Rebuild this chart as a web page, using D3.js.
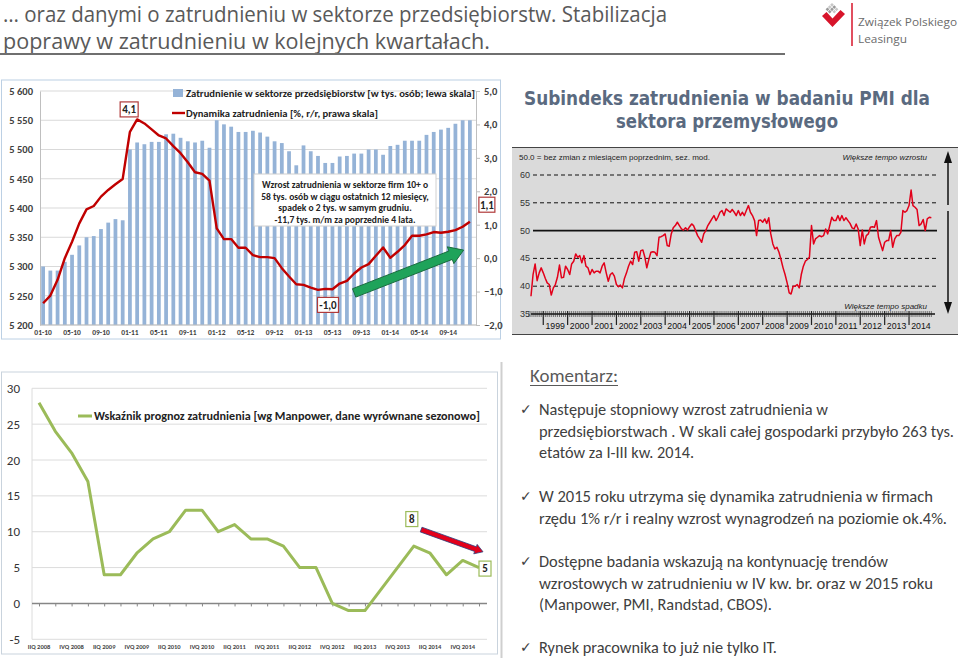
<!DOCTYPE html>
<html>
<head>
<meta charset="utf-8">
<script src="https://cdn.jsdelivr.net/npm/d3@7"></script>
<style>
  body { margin: 0; background: #fff; }
  svg { display: block; }
</style>
</head>
<body>
<svg id="slide" width="960" height="658"></svg>
<script>
// ---- data ----
const empMonths = d3.timeMonth.range(new Date(2010, 0, 1), new Date(2015, 0, 1));

// zatrudnienie w sektorze przedsiebiorstw, tys. osob (lewa skala)
const empLevel = [
  5300, 5293, 5293, 5308, 5320, 5336, 5350, 5352, 5364, 5375, 5381, 5379,
  5500, 5512, 5509, 5513, 5513, 5526, 5527, 5520, 5514, 5512, 5515, 5503,
  5550, 5543, 5539, 5530, 5530, 5532, 5529, 5522, 5514, 5511, 5497, 5473,
  5507, 5497, 5489, 5477, 5477, 5488, 5489, 5493, 5493, 5500, 5500, 5491,
  5506, 5508, 5515, 5515, 5515, 5525, 5530, 5534, 5537, 5544, 5550, 5550
];

// dynamika zatrudnienia, % r/r (prawa skala)
const empGrowth = [
  -1.35, -1.12, -0.65, 0.0, 0.49, 1.04, 1.46, 1.56, 1.84, 2.04, 2.21, 2.37,
  3.78, 4.15, 4.03, 3.85, 3.67, 3.58, 3.35, 3.14, 2.87, 2.57, 2.52, 2.32,
  0.89, 0.57, 0.57, 0.31, 0.31, 0.09, 0.03, 0.03, 0.0, -0.30, -0.55, -0.78,
  -0.80, -0.88, -0.95, -0.92, -0.93, -0.76, -0.68, -0.46, -0.28, -0.18, 0.07, 0.32,
  0.01, 0.19, 0.39, 0.67, 0.67, 0.71, 0.78, 0.76, 0.79, 0.84, 0.94, 1.09
];

const leftTicks = [5200, 5250, 5300, 5350, 5400, 5450, 5500, 5550, 5600];
const rightTicks = [-2, -1, 0, 1, 2, 3, 4, 5];

// PMI subindeks zatrudnienia, monthly from VII 1998
const pmiStart = new Date(1998, 6, 1);
const pmiValues = [
  38.2, 42.1, 44.0, 41.0, 42.4, 43.3,
  42.4, 41.4, 40.6, 40.3, 38.4, 39.7, 40.3, 41.6, 43.8, 41.5, 41.6, 43.6,
  43.0, 42.1, 44.0, 44.5, 45.8, 45.2, 45.5, 44.2, 45.5, 43.6, 43.3, 42.1,
  43.0, 42.4, 42.7, 42.7, 42.4, 43.6, 44.2, 42.4, 40.9, 42.1, 42.4, 41.8,
  40.3, 39.9, 40.2, 39.7, 41.4, 42.4, 43.6, 44.5, 43.9, 46.1, 46.2, 44.5,
  46.4, 46.5, 45.3, 43.3, 44.8, 46.1, 46.2, 46.1, 45.5, 48.8, 48.9, 49.1,
  49.4, 47.3, 47.2, 49.4, 50.5, 50.9, 51.5, 50.9, 50.3, 50.1, 50.5, 50.1,
  50.7, 51.2, 50.9, 50.0, 49.1, 48.5, 47.9, 49.4, 50.0, 50.9, 51.5, 52.1,
  52.7, 51.8, 52.4, 53.3, 53.6, 52.7, 53.9, 53.6, 53.3, 53.8, 53.3, 52.7,
  53.6, 52.7, 53.3, 52.7, 53.6, 54.5, 53.3, 52.7, 51.8, 49.1, 51.8, 51.9,
  51.5, 52.1, 51.3, 52.3, 49.4, 47.6, 46.7, 47.0, 46.1, 44.8, 43.3, 42.1,
  40.6, 38.8, 38.6, 40.0, 40.0, 40.3, 39.7, 42.1, 43.6, 44.5, 44.8, 45.2,
  50.9, 47.6, 48.5, 48.8, 49.1, 48.9, 49.1, 50.3, 49.4, 50.9, 52.4, 51.8,
  51.8, 52.7, 51.8, 52.7, 51.8, 52.3, 51.8, 51.3, 50.5, 50.3, 51.2, 50.3,
  47.3, 50.1, 47.6, 49.1, 49.4, 50.6, 50.7, 50.6, 51.8, 48.8, 47.6, 46.4,
  47.9, 48.2, 48.2, 50.0, 47.0, 48.5, 49.1, 49.1, 49.7, 53.6, 53.3, 53.6,
  54.5, 57.3, 54.5, 54.2, 53.8, 50.9, 51.2, 52.0, 50.0, 52.1, 52.4, 52.3
];
const pmiTicks = [35, 40, 45, 50, 55, 60];
const pmiYears = d3.range(1999, 2015);

// Manpower: wskaznik prognoz zatrudnienia
const mpQuarters = [
  "IIQ 2008", "IIIQ 2008", "IVQ 2008", "IQ 2009", "IIQ 2009", "IIIQ 2009", "IVQ 2009",
  "IQ 2010", "IIQ 2010", "IIIQ 2010", "IVQ 2010", "IQ 2011", "IIQ 2011", "IIIQ 2011",
  "IVQ 2011", "IQ 2012", "IIQ 2012", "IIIQ 2012", "IVQ 2012", "IQ 2013", "IIQ 2013",
  "IIIQ 2013", "IVQ 2013", "IQ 2014", "IIQ 2014", "IIIQ 2014", "IVQ 2014", "IQ 2015"
];
const mpValues = [28, 24, 21, 17, 4, 4, 7, 9, 10, 13, 13, 10, 11, 9, 9, 8, 5, 5, 0, -1, -1, 2, 5, 8, 7, 4, 6, 5];
const mpTicks = [-5, 0, 5, 10, 15, 20, 25, 30];

const titleLines = [
  "\u2026 oraz danymi o zatrudnieniu w sektorze przedsi\u0119biorstw. Stabilizacja",
  "poprawy w zatrudnieniu w kolejnych kwarta\u0142ach."
];
const noteLines = [
  "Wzrost zatrudnienia w sektorze firm 10+ o",
  "58 tys. os\u00f3b w ci\u0105gu ostatnich 12 miesi\u0119cy,",
  "spadek o 2 tys. w samym grudniu.",
  "-11,7 tys. m/m za poprzednie 4 lata."
];
const comments = [
  ["Nast\u0119puje stopniowy wzrost zatrudnienia w",
   "przedsi\u0119biorstwach . W skali ca\u0142ej gospodarki przyby\u0142o 263 tys.",
   "etat\u00f3w za I-III kw. 2014."],
  ["W 2015 roku utrzyma si\u0119 dynamika  zatrudnienia w firmach",
   "rz\u0119du 1% r/r i realny wzrost wynagrodze\u0144 na poziomie ok.4%."],
  ["Dost\u0119pne badania wskazuj\u0105 na kontynuacj\u0119 trend\u00f3w",
   "wzrostowych w zatrudnieniu w IV kw. br. oraz  w  2015 roku",
   "(Manpower, PMI, Randstad, CBOS)."],
  ["Rynek pracownika to ju\u017c nie tylko IT."]
];

// ---- helpers ----
const pl = d3.formatLocale({decimal: ",", thousands: " ", grouping: [3], currency: ["", ""]});
const CAL = "Carlito, Lato, 'Open Sans', sans-serif";
const ARIAL = "'Liberation Sans', Arial, sans-serif";

const svg = d3.select("#slide");

function arrowPath(p0, p1, sw, hw, hl) {
  const dx = p1[0] - p0[0], dy = p1[1] - p0[1], L = Math.hypot(dx, dy);
  const ux = dx / L, uy = dy / L, nx = -uy, ny = ux;
  const b = [p1[0] - ux * hl, p1[1] - uy * hl];
  const pts = [
    [p0[0] + nx * sw / 2, p0[1] + ny * sw / 2],
    [b[0] + nx * sw / 2, b[1] + ny * sw / 2],
    [b[0] + nx * hw / 2, b[1] + ny * hw / 2],
    p1,
    [b[0] - nx * hw / 2, b[1] - ny * hw / 2],
    [b[0] - nx * sw / 2, b[1] - ny * sw / 2],
    [p0[0] - nx * sw / 2, p0[1] - ny * sw / 2]
  ];
  return "M" + pts.map(p => p.join(",")).join("L") + "Z";
}

function labelBox(g, cx, cy, txt, stroke, w) {
  g.append("rect")
    .attr("x", cx - w / 2).attr("y", cy - 7.5)
    .attr("width", w).attr("height", 15)
    .attr("fill", "#fff").attr("stroke", stroke).attr("stroke-width", 1.2);
  g.append("text")
    .attr("x", cx).attr("y", cy + 3.8)
    .attr("text-anchor", "middle")
    .attr("font-family", CAL).attr("font-weight", "bold").attr("font-size", 11)
    .attr("fill", "#222")
    .text(txt);
}

// ---- title & logo ----
svg.selectAll("text.title")
  .data(titleLines)
  .enter().append("text")
    .attr("class", "title")
    .attr("x", 3)
    .attr("y", (d, i) => 22 + i * 27)
    .attr("font-family", "'Open Sans', sans-serif")
    .attr("font-size", 21)
    .attr("fill", "#595959")
    .attr("textLength", (d, i) => i === 0 ? 664 : 487)
    .attr("lengthAdjust", "spacingAndGlyphs")
    .text(d => d);

svg.append("line")
  .attr("x1", 0).attr("x2", 785).attr("y1", 54).attr("y2", 54)
  .attr("stroke", "#6f6f6f").attr("stroke-width", 2);

const logo = svg.append("g");
// grey pixel diamond
const pix = [[0, 0], [1, 0], [0, 1], [1, 1], [2, 0], [0, 2], [2, 1], [1, 2]];
logo.append("g")
  .attr("transform", "translate(832,3) rotate(45)")
  .selectAll("rect").data(pix).enter().append("rect")
    .attr("x", d => d[0] * 3.2).attr("y", d => d[1] * 3.2)
    .attr("width", 2.6).attr("height", 2.6)
    .attr("fill", (d, i) => i % 2 ? "#9a9a9a" : "#c8c8c8");
logo.append("path")
  .attr("d", "M822,16 L832.5,27 L845,14 L840.5,10 L832.5,18.5 L826.5,12 Z")
  .attr("fill", "#d7142a");
logo.append("line")
  .attr("x1", 852).attr("x2", 852).attr("y1", 3).attr("y2", 46)
  .attr("stroke", "#d7142a").attr("stroke-width", 1.5);
logo.selectAll("text").data(["Zwi\u0105zek Polskiego", "Leasingu"]).enter().append("text")
  .attr("x", 858).attr("y", (d, i) => 26 + i * 17)
  .attr("font-family", "'Open Sans', sans-serif").attr("font-size", 11.5)
  .attr("fill", "#6b6b6b")
  .attr("textLength", (d, i) => i === 0 ? 99 : 49)
  .attr("lengthAdjust", "spacingAndGlyphs")
  .text(d => d);

// ---- chart 1: zatrudnienie w sektorze przedsiebiorstw ----
const c1 = svg.append("g");
c1.append("rect")
  .attr("x", 1.5).attr("y", 80).attr("width", 499).attr("height", 259)
  .attr("fill", "#fff").attr("stroke", "#bcd0e4").attr("stroke-width", 1);

const x1 = d3.scaleBand()
  .domain(d3.range(empMonths.length))
  .range([39.5, 473.5])
  .paddingInner(0.48).paddingOuter(0.24);
const yL = d3.scaleLinear().domain([5200, 5600]).range([325, 91]);
const yR = d3.scaleLinear().domain([-2, 5]).range([325, 91]);
const cx1 = i => x1(i) + x1.bandwidth() / 2;

c1.append("g").selectAll("line").data(leftTicks).enter().append("line")
  .attr("x1", 40).attr("x2", 476)
  .attr("y1", d => yL(d)).attr("y2", d => yL(d))
  .attr("stroke", "#d9d9d9");

c1.append("g").selectAll("rect").data(empLevel).enter().append("rect")
  .attr("x", (d, i) => x1(i))
  .attr("width", x1.bandwidth())
  .attr("y", d => yL(d))
  .attr("height", d => yL(5200) - yL(d))
  .attr("fill", "#95b3d7");

// left axis
const axL = c1.append("g")
  .attr("transform", "translate(40,0)")
  .call(d3.axisLeft(yL).tickValues(leftTicks).tickSize(0).tickPadding(7).tickFormat(pl.format(",")));
axL.select(".domain").attr("stroke", "#bfbfbf");
axL.selectAll("text").attr("font-family", CAL).attr("font-weight", "bold").attr("font-size", 10.5).attr("fill", "#404040");

// right axis
const axR = c1.append("g")
  .attr("transform", "translate(476,0)")
  .call(d3.axisRight(yR).tickValues(rightTicks).tickSize(4).tickPadding(4).tickFormat(pl.format(".1f")));
axR.selectAll("line, .domain").attr("stroke", "#bfbfbf");
axR.selectAll("text").attr("font-family", CAL).attr("font-weight", "bold").attr("font-size", 10.5).attr("fill", "#404040");

// bottom axis
const axB = c1.append("g")
  .attr("transform", "translate(0,325)")
  .call(d3.axisBottom(x1)
    .tickValues(d3.range(0, empMonths.length, 4))
    .tickSize(0).tickPadding(5)
    .tickFormat(i => d3.timeFormat("%m-%y")(empMonths[i])));
axB.select(".domain").attr("stroke", "#bfbfbf").attr("d", "M40,0H476");
axB.selectAll("text").attr("font-family", CAL).attr("font-weight", "bold").attr("font-size", 7.5).attr("fill", "#404040");

c1.append("path")
  .datum(empGrowth)
  .attr("d", d3.line().x((d, i) => cx1(i)).y(d => yR(d)))
  .attr("fill", "none").attr("stroke", "#c00000").attr("stroke-width", 2.4)
  .attr("stroke-linejoin", "round");

// legend
c1.append("rect").attr("x", 173).attr("y", 89).attr("width", 10).attr("height", 8).attr("fill", "#95b3d7");
c1.append("line").attr("x1", 172).attr("x2", 185).attr("y1", 113).attr("y2", 113)
  .attr("stroke", "#c00000").attr("stroke-width", 2.4);
c1.selectAll("text.leg").data([
  "Zatrudnienie w sektorze przedsi\u0119biorstw [w tys. os\u00f3b; lewa skala]",
  "Dynamika zatrudnienia [%, r/r, prawa skala]"
]).enter().append("text")
  .attr("class", "leg")
  .attr("x", 186).attr("y", (d, i) => 97 + i * 20)
  .attr("font-family", CAL).attr("font-weight", "bold").attr("font-size", 10.5).attr("fill", "#222")
  .attr("textLength", (d, i) => i === 0 ? 289 : 192)
  .attr("lengthAdjust", "spacingAndGlyphs")
  .text(d => d);

// note box
c1.append("rect").attr("x", 254).attr("y", 174).attr("width", 182).attr("height", 52)
  .attr("fill", "#fff").attr("stroke", "#d0d0d0");
c1.selectAll("text.note").data(noteLines).enter().append("text")
  .attr("class", "note")
  .attr("x", 345).attr("y", (d, i) => 188 + i * 11.7)
  .attr("text-anchor", "middle")
  .attr("font-family", CAL).attr("font-weight", "bold").attr("font-size", 9.5).attr("fill", "#222")
  .text(d => d);

// value labels: peak, trough after the peak, last value
const iMax = d3.maxIndex(empGrowth);
const iMin = iMax + d3.minIndex(empGrowth.slice(iMax));
const iLast = empGrowth.length - 1;
labelBox(c1, cx1(iMax) - 8, yR(empGrowth[iMax]) - 10, "4,1", "#b03a3a", 18);
labelBox(c1, cx1(iMin) + 10, yR(empGrowth[iMin]) + 15, "-1,0", "#b03a3a", 21);
labelBox(c1, cx1(iLast) + 17, yR(empGrowth[iLast]) - 17, "1,1", "#b03a3a", 16);

// green trend arrow
c1.append("path")
  .attr("d", arrowPath([cx1(43), yR(-1.04)], [cx1(58) + 1, yR(0.24)], 9, 18, 14))
  .attr("fill", "#1fa35a").attr("stroke", "#1b6b3f").attr("stroke-width", 1);

// ---- chart 2: PMI ----
const c2 = svg.append("g");
c2.selectAll("text.pmititle").data(["Subindeks zatrudnienia w badaniu PMI dla", "sektora przemys\u0142owego"])
  .enter().append("text")
  .attr("class", "pmititle")
  .attr("x", 727).attr("y", (d, i) => 105 + i * 23).attr("text-anchor", "middle")
  .attr("font-family", "'Liberation Sans Narrow', 'DejaVu Sans Condensed', Roboto, sans-serif")
  .attr("font-weight", "bold").attr("font-size", 20).attr("fill", "#5a6a80")
  .attr("textLength", (d, i) => i === 0 ? 406 : 222).attr("lengthAdjust", "spacingAndGlyphs")
  .text(d => d);

c2.append("rect").attr("x", 512).attr("y", 147).attr("width", 446).attr("height", 188).attr("fill", "#dadada");
c2.append("line").attr("x1", 512).attr("x2", 958).attr("y1", 147.5).attr("y2", 147.5).attr("stroke", "#444");
c2.append("line").attr("x1", 512).attr("x2", 958).attr("y1", 334.5).attr("y2", 334.5).attr("stroke", "#444");

const x2 = d3.scaleTime().domain([new Date(1998, 0, 1), new Date(2015, 0, 1)]).range([518.9, 933.4]);
const y2 = d3.scaleLinear().domain([35, 60]).range([314, 175]);
const pmiDates = pmiValues.map((v, i) => d3.timeMonth.offset(pmiStart, i));

c2.append("g").selectAll("line").data(pmiTicks.filter(d => d > 35)).enter().append("line")
  .attr("x1", 533).attr("x2", 937)
  .attr("y1", d => y2(d)).attr("y2", d => y2(d))
  .attr("stroke", "#111")
  .attr("stroke-width", d => d === 50 ? 1.6 : 1)
  .attr("stroke-dasharray", d => d === 50 ? null : "4,3");

c2.append("g").selectAll("text").data(pmiTicks).enter().append("text")
  .attr("x", 530).attr("y", d => y2(d) + 3)
  .attr("text-anchor", "end")
  .attr("font-family", ARIAL).attr("font-size", 9).attr("fill", "#333")
  .text(d => d);

// time axis with monthly ticks
c2.append("line").attr("x1", 531).attr("x2", 935).attr("y1", 314).attr("y2", 314)
  .attr("stroke", "#111").attr("stroke-width", 1.6);
c2.append("g").selectAll("line")
  .data(d3.timeMonth.range(new Date(1998, 5, 1), new Date(2015, 0, 1)))
  .enter().append("line")
    .attr("x1", d => x2(d)).attr("x2", d => x2(d))
    .attr("y1", 311).attr("y2", d => d.getMonth() === 0 ? 325 : 317)
    .attr("stroke", "#222").attr("stroke-width", d => d.getMonth() === 0 ? 1.2 : 0.6);
c2.append("g").selectAll("text").data(pmiYears).enter().append("text")
  .attr("x", d => x2(new Date(d, 0, 1)) + 2.2).attr("y", 328.5)
  .attr("font-family", ARIAL).attr("font-size", 9).attr("fill", "#111")
  .attr("textLength", 19.5).attr("lengthAdjust", "spacingAndGlyphs")
  .text(d => d);

c2.append("path")
  .datum(pmiValues)
  .attr("d", d3.line().x((d, i) => x2(pmiDates[i])).y(d => y2(d)))
  .attr("fill", "none").attr("stroke", "#e2001a").attr("stroke-width", 1.5)
  .attr("stroke-linejoin", "round");

c2.append("text").attr("x", 519).attr("y", 160)
  .attr("font-family", ARIAL).attr("font-size", 8).attr("fill", "#222")
  .text("50.0 = bez zmian z miesi\u0105cem poprzednim, sez. mod.");
c2.selectAll("text.tempo").data(["Wi\u0119ksze tempo wzrostu", "Wi\u0119ksze tempo spadku"]).enter().append("text")
  .attr("class", "tempo")
  .attr("x", 927).attr("y", (d, i) => i === 0 ? 160 : 309)
  .attr("text-anchor", "end")
  .attr("font-family", ARIAL).attr("font-style", "italic").attr("font-size", 8).attr("fill", "#222")
  .text(d => d);

// vertical arrows
c2.append("line").attr("x1", 948).attr("x2", 948).attr("y1", 205).attr("y2", 160).attr("stroke", "#111").attr("stroke-width", 1.5);
c2.append("path").attr("d", "M944,163 L948,151 L952,163 Z").attr("fill", "#111");
c2.append("line").attr("x1", 948).attr("x2", 948).attr("y1", 211).attr("y2", 305).attr("stroke", "#111").attr("stroke-width", 1.5);
c2.append("path").attr("d", "M944,302 L948,314 L952,302 Z").attr("fill", "#111");

// ---- chart 3: Manpower ----
const c3 = svg.append("g");
c3.append("rect")
  .attr("x", 1.5).attr("y", 372).attr("width", 496).attr("height", 282)
  .attr("fill", "#fff").attr("stroke", "#c9d3dd");

const x3 = d3.scalePoint().domain(mpQuarters).range([39, 479]);
const y3 = d3.scaleLinear().domain([-5, 30]).range([639.3, 388.3]);

c3.append("g").selectAll("line").data(mpTicks.filter(d => d !== 0)).enter().append("line")
  .attr("x1", 32).attr("x2", 487)
  .attr("y1", d => y3(d)).attr("y2", d => y3(d))
  .attr("stroke", "#dcdcdc");
c3.append("line").attr("x1", 32).attr("x2", 32).attr("y1", y3(30)).attr("y2", y3(-5)).attr("stroke", "#dcdcdc");

const ax3 = c3.append("g")
  .attr("transform", `translate(0,${y3(0)})`)
  .call(d3.axisBottom(x3).tickSize(3).tickFormat(""));
ax3.select(".domain").attr("d", "M32,0H487").attr("stroke", "#868686").attr("stroke-width", 1.5);
ax3.selectAll(".tick line").attr("stroke", "#868686");

c3.append("g").selectAll("text").data(mpTicks).enter().append("text")
  .attr("x", 20).attr("y", d => y3(d) + 4.5)
  .attr("text-anchor", "end")
  .attr("font-family", CAL).attr("font-size", 13).attr("fill", "#333")
  .text(d => d);

c3.append("g").selectAll("text").data(mpQuarters.filter((d, i) => i % 2 === 0 && i < 27)).enter().append("text")
  .attr("x", d => x3(d)).attr("y", 649)
  .attr("text-anchor", "middle")
  .attr("font-family", CAL).attr("font-weight", "bold").attr("font-size", 6.5).attr("fill", "#444")
  .text(d => d);

c3.append("path")
  .datum(mpValues)
  .attr("d", d3.line().x((d, i) => x3(mpQuarters[i])).y(d => y3(d)))
  .attr("fill", "none").attr("stroke", "#9bbb59").attr("stroke-width", 3)
  .attr("stroke-linejoin", "round");

// legend
c3.append("line").attr("x1", 78).attr("x2", 92).attr("y1", 416).attr("y2", 416)
  .attr("stroke", "#9bbb59").attr("stroke-width", 3);
c3.append("text").attr("x", 94).attr("y", 420)
  .attr("font-family", CAL).attr("font-weight", "bold").attr("font-size", 12).attr("fill", "#222")
  .attr("textLength", 386).attr("lengthAdjust", "spacingAndGlyphs")
  .text("Wska\u017anik prognoz zatrudnienia [wg Manpower, dane wyr\u00f3wnane sezonowo]");

const iHi = 23, iEnd = mpValues.length - 1;
labelBox(c3, x3(mpQuarters[iHi]) - 2, y3(mpValues[iHi]) - 27, String(mpValues[iHi]), "#9bbb59", 12);
labelBox(c3, x3(mpQuarters[iEnd]) + 6, y3(mpValues[iEnd]) + 1, String(mpValues[iEnd]), "#9bbb59", 12);

c3.append("path")
  .attr("d", arrowPath([x3(mpQuarters[24]) - 9, y3(10.3)], [x3(mpQuarters[27]) + 4, y3(7.2)], 5, 10, 8))
  .attr("fill", "#e3001b").attr("stroke", "#2b3f7e").attr("stroke-width", 0.8);

// ---- comments ----
const c4 = svg.append("g");
c4.append("line").attr("x1", 501.5).attr("x2", 501.5).attr("y1", 362).attr("y2", 658)
  .attr("stroke", "#cfcfcf").attr("stroke-width", 2);
c4.append("text").attr("x", 530).attr("y", 382)
  .attr("font-family", CAL).attr("font-size", 17.5).attr("fill", "#595959")
  .attr("textLength", 88).attr("lengthAdjust", "spacingAndGlyphs")
  .text("Komentarz:");
c4.append("line").attr("x1", 530).attr("x2", 618).attr("y1", 385.5).attr("y2", 385.5)
  .attr("stroke", "#595959").attr("stroke-width", 1);

const lineWidths = [[289, 415, 155], [394, 408], [349, 394, 233], [238]];
const blockTop = [415, 502, 567, 653];
comments.forEach((block, b) => {
  c4.append("text").attr("x", 520).attr("y", blockTop[b] - 1)
    .attr("font-family", "'DejaVu Sans', sans-serif").attr("font-size", 14).attr("fill", "#404040")
    .text("\u2713");
  block.forEach((ln, j) => {
    c4.append("text").attr("x", 539).attr("y", blockTop[b] + j * 21.7)
      .attr("font-family", CAL).attr("font-size", 15.5).attr("fill", "#404040")
      .attr("textLength", lineWidths[b][j]).attr("lengthAdjust", "spacingAndGlyphs")
      .text(ln);
  });
});
</script>
</body>
</html>
